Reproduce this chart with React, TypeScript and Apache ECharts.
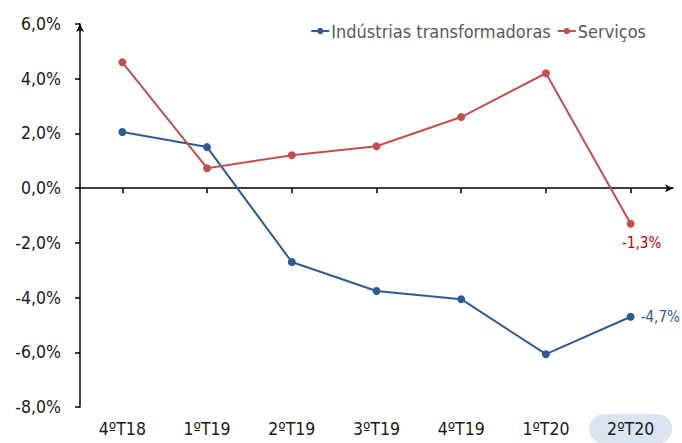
import React, { useEffect, useRef } from "react";
import * as echarts from "echarts";

const categories = ["4ºT18", "1ºT19", "2ºT19", "3ºT19", "4ºT19", "1ºT20", "2ºT20"];
const industrias = [2.05, 1.5, -2.7, -3.76, -4.06, -6.07, -4.7];
const servicos = [4.6, 0.73, 1.2, 1.53, 2.6, 4.2, -1.3];
const seriesNames = ["Indústrias transformadoras", "Serviços"];

const FONT = "'DejaVu Sans Condensed', 'DejaVu Sans', sans-serif";
const BLUE = "#2F5B92";
const RED = "#C0504D";

const fmt = (v: number) => v.toFixed(1).replace(".", ",") + "%";

export default function App() {
  const ref = useRef<HTMLDivElement>(null);
  useEffect(() => {
    document.body.style.margin = "0";
    if (!ref.current) return;
    const chart = echarts.init(ref.current, undefined, { renderer: "svg" });
    const last = categories.length - 1;
    chart.setOption({
      animation: false,
      textStyle: { fontFamily: FONT },
      grid: { left: 80, right: 9, top: 24, bottom: 36, containLabel: false, outerBoundsMode: "none" },
      legend: {
        right: 31,
        top: 17,
        itemGap: 6,
        itemWidth: 18,
        itemHeight: 8,
        textStyle: { fontFamily: FONT, fontSize: 18, color: "#595959", padding: [0, 0, 0, -3] },
        data: seriesNames,
      },
      xAxis: [
        {
          type: "category",
          data: categories,
          position: "bottom",
          axisLine: { show: false, onZero: false },
          axisTick: { show: false },
          axisLabel: {
            interval: 0,
            fontFamily: FONT,
            fontSize: 17.5,
            color: "#1a1a1a",
            margin: 7,
            formatter: (v: string, i: number) => (i === last ? `{hl|${v}}` : `{n|${v}}`),
            rich: {
              n: {
                fontFamily: FONT,
                fontSize: 17.5,
                color: "#1a1a1a",
                padding: [6, 0, 6, 0],
              },
              hl: {
                fontFamily: FONT,
                fontSize: 17.5,
                color: "#1a1a1a",
                backgroundColor: "#DBE5F1",
                borderRadius: 17,
                padding: [6, 18, 6, 18],
              },
            },
          },
        },
        {
          type: "category",
          data: categories,
          position: "bottom",
          axisLine: {
            show: true,
            onZero: true,
            symbol: ["none", "arrow"],
            symbolSize: [6, 8],
            lineStyle: { color: "#000", width: 1.5 },
          },
          axisTick: { show: true, interval: 0, alignWithLabel: true, length: 5, lineStyle: { color: "#000", width: 1.5 } },
          axisLabel: { show: false, interval: 0 },
        },
      ],
      yAxis: {
        type: "value",
        min: -8,
        max: 6,
        interval: 2,
        splitLine: { show: false },
        axisLine: {
          show: true,
          symbol: ["none", "arrow"],
          symbolSize: [6, 8],
          lineStyle: { color: "#000", width: 1.5 },
        },
        axisTick: { show: true, length: 5, lineStyle: { color: "#000", width: 1.5 } },
        axisLabel: {
          fontFamily: FONT,
          fontSize: 17.5,
          color: "#1a1a1a",
          margin: 19,
          formatter: (v: number) => fmt(v),
        },
      },
      series: [
        {
          name: seriesNames[0],
          type: "line",
          xAxisIndex: 0,
          data: industrias.map((v, i) =>
            i === last
              ? {
                  value: v,
                  label: {
                    show: true,
                    position: "right",
                    distance: 6,
                    color: BLUE,
                    fontFamily: FONT,
                    fontSize: 15,
                    formatter: (p: any) => fmt(p.value),
                  },
                }
              : v
          ),
          symbol: "circle",
          symbolSize: 8,
          lineStyle: { color: BLUE, width: 2 },
          itemStyle: { color: BLUE },
        },
        {
          name: seriesNames[1],
          type: "line",
          xAxisIndex: 0,
          data: servicos.map((v, i) =>
            i === last
              ? {
                  value: v,
                  label: {
                    show: true,
                    position: "bottom",
                    distance: 8,
                    offset: [11, 0],
                    color: "#C00000",
                    fontFamily: FONT,
                    fontSize: 15,
                    formatter: (p: any) => fmt(p.value),
                  },
                }
              : v
          ),
          symbol: "circle",
          symbolSize: 8,
          lineStyle: { color: RED, width: 2 },
          itemStyle: { color: RED },
        },
      ],
    });
    return () => chart.dispose();
  }, []);
  return <div ref={ref} style={{ width: 682, height: 443 }} />;
}
